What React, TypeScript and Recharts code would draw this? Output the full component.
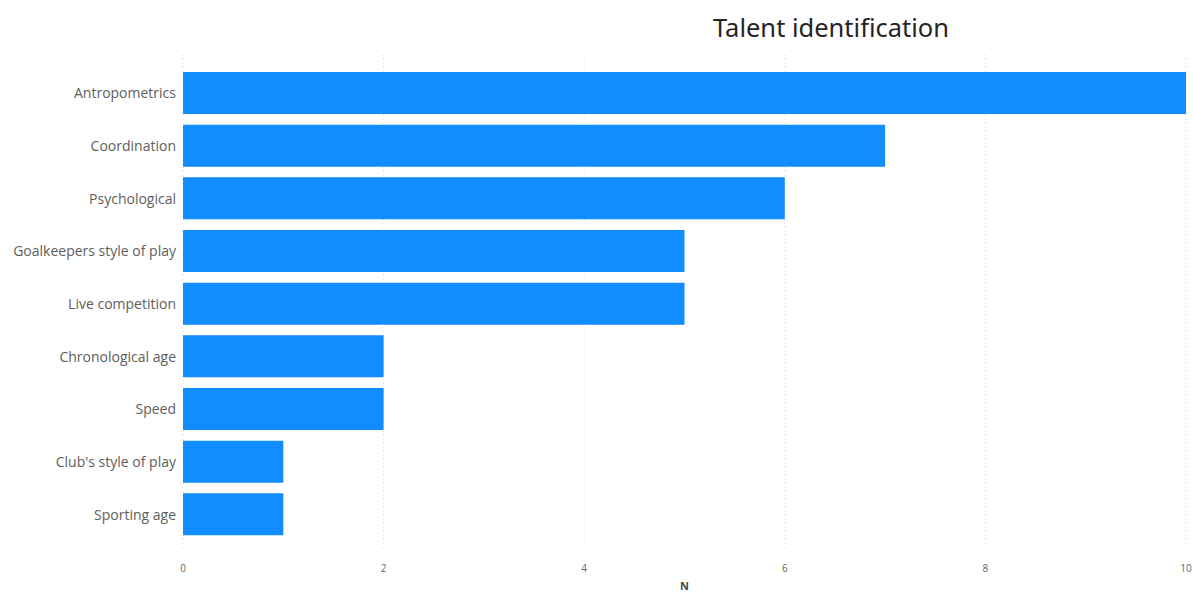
import React from "react";
import { BarChart, Bar, XAxis, YAxis, CartesianGrid } from "recharts";

const categories = [
  "Antropometrics",
  "Coordination",
  "Psychological",
  "Goalkeepers style of play",
  "Live competition",
  "Chronological age",
  "Speed",
  "Club's style of play",
  "Sporting age",
];
const values = [10, 7, 6, 5, 5, 2, 2, 1, 1];
const xTicks = [0, 2, 4, 6, 8, 10];
const title = "Talent identification";
const xLabel = "N";

const data = categories.map((c, i) => ({ name: c, value: values[i] }));

export default function App() {
  return (
    <div style={{ position: "absolute", left: 0, top: 0, width: 1193, height: 592, background: "#fff" }}>
      <div
        style={{
          position: "absolute",
          left: 0,
          width: 1662,
          top: 11,
          textAlign: "center",
          fontFamily: "'Noto Sans', sans-serif",
          fontSize: 25.5,
          color: "#252423",
          lineHeight: "32px",
        }}
      >
        {title}
      </div>
      <BarChart
        width={1193}
        height={592}
        data={data}
        layout="vertical"
        margin={{ top: 55, right: 7, bottom: 0, left: 8 }}
      >
        <CartesianGrid horizontal={false} stroke="#d8d8d8" strokeDasharray="1 3" />
        <XAxis
          type="number"
          domain={[0, 10]}
          ticks={xTicks}
          axisLine={false}
          tickLine={false}
          height={42}
          tick={{ fontSize: 10, fill: "#666", fontFamily: "'Open Sans', sans-serif" }}
          tickMargin={9}
          label={{
            value: xLabel,
            position: "insideBottom",
            offset: 2,
            style: { fontSize: 11, fontWeight: "bold", fill: "#444", fontFamily: "'Open Sans', sans-serif" },
          }}
        />
        <YAxis
          type="category"
          dataKey="name"
          width={175}
          axisLine={false}
          tickLine={false}
          padding={{ top: 12, bottom: 9 }}
          tick={{ fontSize: 14, fill: "#605e5c", fontFamily: "'Open Sans', sans-serif" }}
          tickMargin={1}
          interval={0}
        />
        <Bar dataKey="value" fill="#118DFF" barSize={42} isAnimationActive={false} />
      </BarChart>
    </div>
  );
}
